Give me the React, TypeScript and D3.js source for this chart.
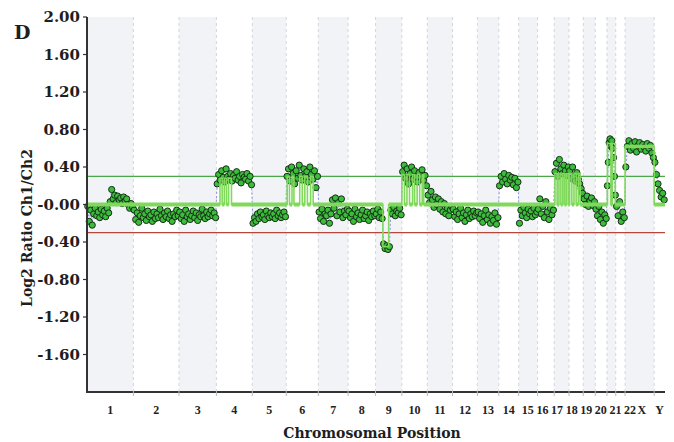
import React from "react";
import * as d3 from "d3";

// ---------- data ----------
const chromosomes = ["1","2","3","4","5","6","7","8","9","10","11","12","13","14","15","16","17","18","19","20","21","22","X","Y"];
// chromosome lengths (Mb) – define the width of each band on the genome axis
const chromLengthsMb = [247.2, 242.9, 199.5, 191.3, 180.9, 170.9, 158.8, 146.3, 140.3, 135.4, 134.5, 132.3, 114.1, 106.4, 100.3, 88.8, 78.8, 76.1, 63.8, 62.4, 46.9, 49.7, 154.9, 57.8];

const yTicks = [2.0, 1.6, 1.2, 0.8, 0.4, 0, -0.4, -0.8, -1.2, -1.6];
const yTickLabels = ["2.00", "1.60", "1.20", "0.80", "0.40", "-0.00", "-0.40", "-0.80", "-1.20", "-1.60"];

const gainThreshold = 0.3;
const lossThreshold = -0.3;

// log2 ratio values per chromosome, in genomic order
const ratioChr1 = [-0.02, -0.18, -0.06, -0.22, -0.1, -0.04, -0.12, -0.08, -0.14, -0.05, -0.11, -0.07, -0.13, -0.04, -0.09, 0.03, 0.16, 0.06, 0.1, 0.02, 0.09, 0.05, 0.07, 0.01, 0.08, 0.04, 0.06, 0.0, -0.04, 0.01, -0.03];
const ratioChr2 = [-0.06, -0.16, -0.09, -0.19, -0.12, -0.04, -0.14, -0.1, -0.17, -0.07, -0.13, -0.11, -0.18, -0.08, -0.15, -0.1, -0.14, -0.05, -0.12, -0.16, -0.09, -0.13, -0.07, -0.15, -0.11, -0.18, -0.1, -0.13, -0.06, -0.12];
const ratioChr3 = [-0.08, -0.15, -0.11, -0.18, -0.06, -0.13, -0.1, -0.16, -0.12, -0.07, -0.14, -0.09, -0.17, -0.11, -0.13, -0.05, -0.12, -0.15, -0.08, -0.13, -0.1, -0.06, -0.12, -0.09, -0.14];
const ratioChr4 = [0.22, 0.32, 0.26, 0.36, 0.29, 0.24, 0.38, 0.3, 0.27, 0.33, 0.25, 0.31, 0.28, 0.35, 0.26, 0.3, 0.23, 0.32, 0.29, 0.27, 0.33, 0.25, 0.3, 0.21];
const ratioChr5 = [-0.2, -0.14, -0.18, -0.1, -0.15, -0.08, -0.13, -0.11, -0.16, -0.07, -0.12, -0.14, -0.09, -0.13, -0.1, -0.15, -0.06, -0.12, -0.09, -0.14, -0.11, -0.08, -0.13];
const ratioChr6 = [0.3, 0.38, 0.25, 0.4, 0.33, 0.22, 0.36, 0.28, 0.42, 0.31, 0.26, 0.38, 0.3, 0.35, 0.24, 0.4, 0.32, 0.27, 0.36, 0.18, 0.3];
const ratioChr7 = [-0.08, -0.15, -0.05, -0.18, -0.1, -0.12, -0.06, -0.2, -0.1, 0.05, -0.04, 0.07, -0.12, 0.02, -0.08, 0.06, -0.14, -0.07, -0.11, -0.05];
const ratioChr8 = [-0.07, -0.14, -0.1, -0.18, -0.05, -0.13, -0.09, -0.16, -0.11, -0.06, -0.15, -0.12, -0.08, -0.17, -0.1, -0.13, -0.07, -0.12];
const ratioChr9 = [-0.1, -0.05, -0.14, -0.08, -0.15, -0.42, -0.47, -0.44, -0.48, -0.45, -0.06, -0.1, -0.03, -0.12, -0.07, -0.09, -0.04, -0.11];
const ratioChr10 = [0.35, 0.42, 0.28, 0.38, 0.22, 0.33, 0.4, 0.27, 0.36, 0.3, 0.24, 0.34, 0.29, 0.37, 0.26, 0.31, 0.2];
const ratioChr11 = [0.1, 0.02, 0.14, 0.05, -0.03, 0.08, 0.0, 0.06, -0.05, 0.03, -0.08, 0.01, -0.1, -0.04, -0.12, -0.06, -0.02];
const ratioChr12 = [-0.05, -0.13, -0.08, -0.16, -0.1, -0.04, -0.14, -0.09, -0.18, -0.11, -0.06, -0.15, -0.1, -0.13, -0.07, -0.12, -0.09];
const ratioChr13 = [-0.08, -0.15, -0.1, -0.19, -0.12, -0.06, -0.16, -0.11, -0.2, -0.13, -0.17, -0.09, -0.21, -0.14];
const ratioChr14 = [0.2, 0.3, 0.24, 0.33, 0.27, 0.22, 0.31, 0.26, 0.29, 0.21, 0.28, 0.18, 0.24];
const ratioChr15 = [-0.2, -0.06, -0.12, -0.03, -0.09, -0.14, -0.05, -0.1, -0.07, -0.13, -0.04, -0.11, -0.08];
const ratioChr16 = [-0.05, 0.06, -0.1, -0.02, -0.14, 0.03, -0.08, -0.16, -0.04, -0.11, -0.06];
const ratioChr17 = [0.35, 0.44, 0.3, 0.48, 0.38, 0.33, 0.42, 0.36, 0.31, 0.4];
const ratioChr18 = [0.36, 0.28, 0.4, 0.3, 0.25, 0.34, 0.27, 0.22, 0.17, 0.12];
const ratioChr19 = [0.06, 0.0, 0.09, -0.02, 0.04, 0.07, -0.01, 0.03];
const ratioChr20 = [-0.05, -0.12, -0.02, -0.16, -0.08, -0.2, -0.11, -0.15];
const ratioChr21 = [0.2, 0.45, 0.66, 0.7, 0.62, 0.68, 0.6, 0.5, 0.3, 0.1];
const ratioChr22 = [-0.02, -0.12, 0.03, -0.18, -0.08, -0.14];
const ratioChrX = [0.4, 0.62, 0.68, 0.58, 0.65, 0.6, 0.67, 0.56, 0.63, 0.66, 0.59, 0.64, 0.61, 0.57, 0.65, 0.6, 0.63, 0.55, 0.5];
const ratioChrY = [0.45, 0.32, 0.22, 0.15, 0.08, 0.12, 0.05];

const ratiosByChrom = [ratioChr1, ratioChr2, ratioChr3, ratioChr4, ratioChr5, ratioChr6, ratioChr7, ratioChr8, ratioChr9, ratioChr10, ratioChr11, ratioChr12, ratioChr13, ratioChr14, ratioChr15, ratioChr16, ratioChr17, ratioChr18, ratioChr19, ratioChr20, ratioChr21, ratioChr22, ratioChrX, ratioChrY];

// aberration calls: chromosome, start / end (fraction of chromosome), segment value
const aberrationChrom = ["4", "4", "4", "6", "6", "6", "6", "6", "9", "10", "10", "10", "10", "10", "17", "17", "17", "17", "18", "18", "18", "21", "21", "X"];
const aberrationStart = [0.1, 0.22, 0.34, 0.03, 0.18, 0.42, 0.58, 0.76, 0.28, 0.0, 0.2, 0.42, 0.6, 0.8, 0.05, 0.32, 0.58, 0.82, 0.05, 0.35, 0.65, 0.05, 0.6, 0.0];
const aberrationEnd = [0.16, 0.28, 0.42, 0.1, 0.24, 0.5, 0.66, 0.84, 0.5, 0.1, 0.3, 0.5, 0.7, 0.86, 0.2, 0.45, 0.7, 0.95, 0.2, 0.5, 0.78, 0.45, 0.95, 1.0];
const aberrationValue = [0.28, 0.28, 0.28, 0.3, 0.3, 0.3, 0.3, 0.3, -0.45, 0.32, 0.32, 0.32, 0.32, 0.32, 0.33, 0.33, 0.33, 0.33, 0.33, 0.33, 0.33, 0.65, 0.65, 0.62];

// ---------- layout ----------
const W = 674;
const H = 442;
const PL = 87;
const PR = 665;
const PT = 17;
const PB = 392;
const FONT = "'DejaVu Serif', 'Liberation Serif', serif";
const CALL_GREEN = "#80d95c";

export default function App() {
  const offsets: number[] = [];
  let acc = 0;
  chromLengthsMb.forEach((l) => {
    offsets.push(acc);
    acc += l;
  });
  const total = acc;

  const x = d3.scaleLinear().domain([0, total]).range([PL, PR]);
  const y = d3.scaleLinear().domain([-2, 2]).range([PB, PT]);

  // probe points
  const points: { g: number; v: number }[] = [];
  ratiosByChrom.forEach((vals, i) => {
    const n = vals.length;
    vals.forEach((v, j) => {
      points.push({ g: offsets[i] + (chromLengthsMb[i] * (j + 0.5)) / n, v });
    });
  });

  // aberration call path (step line)
  const segs = aberrationChrom
    .map((c, k) => {
      const i = chromosomes.indexOf(c);
      return {
        s: offsets[i] + chromLengthsMb[i] * aberrationStart[k],
        e: offsets[i] + chromLengthsMb[i] * aberrationEnd[k],
        v: aberrationValue[k],
      };
    })
    .sort((a, b) => a.s - b.s);
  const callPts: [number, number][] = [[0, 0]];
  segs.forEach((s) => {
    callPts.push([s.s, 0], [s.s, s.v], [s.e, s.v], [s.e, 0]);
  });
  callPts.push([total, 0]);
  const callLine = d3.line<[number, number]>().x((d) => x(d[0])).y((d) => y(d[1]));
  const probeLine = d3.line<{ g: number; v: number }>().x((d) => x(d.g)).y((d) => y(d.v));

  // baseline (no call) intervals
  const baseIntervals: [number, number][] = [];
  let cur = 0;
  segs.forEach((s) => {
    if (s.s > cur) baseIntervals.push([cur, s.s]);
    cur = Math.max(cur, s.e);
  });
  if (cur < total) baseIntervals.push([cur, total]);
  const wideSegs = segs.filter((s) => x(s.e) - x(s.s) > 8);

  // chromosome label positions: band centres, relaxed to avoid overlap
  const labelW = chromosomes.map((c) => c.length * 5.8);
  const labelX = chromosomes.map((_, i) => x(offsets[i] + chromLengthsMb[i] / 2));
  for (let it = 0; it < 80; it++) {
    for (let i = 1; i < labelX.length; i++) {
      const minGap = (labelW[i] + labelW[i - 1]) / 2 + 3;
      const d = labelX[i] - labelX[i - 1];
      if (d < minGap) {
        const sh = (minGap - d) / 2;
        labelX[i] += sh;
        labelX[i - 1] -= sh;
      }
    }
    labelX[labelX.length - 1] = Math.min(labelX[labelX.length - 1], PR - 2);
  }

  return (
    <svg width={W} height={H} style={{ position: "absolute", left: 0, top: 0, background: "#fff" }}>
      {/* chromosome bands */}
      {chromosomes.map((c, i) => (
        <rect
          key={"b" + c}
          x={x(offsets[i])}
          y={PT}
          width={x(offsets[i] + chromLengthsMb[i]) - x(offsets[i])}
          height={PB - PT}
          fill={i % 2 === 0 ? "#f1f3f6" : "#ffffff"}
        />
      ))}
      {chromosomes.map((c, i) =>
        i === 0 ? null : (
          <line
            key={"d" + c}
            x1={x(offsets[i])}
            x2={x(offsets[i])}
            y1={PT}
            y2={PB}
            stroke="#d2d6db"
            strokeWidth={1}
            strokeDasharray="3,3"
          />
        )
      )}
      {/* thresholds */}
      <line x1={PL} x2={PR} y1={y(gainThreshold)} y2={y(gainThreshold)} stroke="#4aa84a" strokeWidth={1.4} />
      <line x1={PL} x2={PR} y1={y(lossThreshold)} y2={y(lossThreshold)} stroke="#b4473a" strokeWidth={1.4} />

      {/* probe trace */}
      <path d={probeLine(points) || ""} fill="none" stroke="#8484e0" strokeWidth={0.9} strokeDasharray="2,2" />

      {/* probes */}
      {points.map((p, k) => (
        <circle key={"p" + k} cx={x(p.g)} cy={y(p.v)} r={3.1} fill="#3dbb3d" stroke="#163016" strokeWidth={1} />
      ))}

      {/* aberration call line */}
      <path d={callLine(callPts) || ""} fill="none" stroke={CALL_GREEN} strokeWidth={1.6} strokeLinejoin="miter" />
      {baseIntervals.map((b, k) => (
        <line key={"bl" + k} x1={x(b[0])} x2={x(b[1])} y1={y(0)} y2={y(0)} stroke={CALL_GREEN} strokeWidth={4} />
      ))}
      {wideSegs.map((s, k) => (
        <line key={"ws" + k} x1={x(s.s)} x2={x(s.e)} y1={y(s.v)} y2={y(s.v)} stroke={CALL_GREEN} strokeWidth={3.5} />
      ))}

      {/* axes */}
      <line x1={PL} x2={PL} y1={PT} y2={PB + 1} stroke="#333" strokeWidth={2} />
      <line x1={PL - 1} x2={PR} y1={PB} y2={PB} stroke="#333" strokeWidth={2} />
      {chromosomes.map((c, i) =>
        i === 0 ? null : (
          <line key={"t" + c} x1={x(offsets[i])} x2={x(offsets[i])} y1={PB - 1} y2={PB + 4} stroke="#bbb" strokeWidth={1} />
        )
      )}
      {yTicks.map((t, i) => (
        <g key={"yt" + i}>
          <line x1={PL - 4} x2={PL} y1={y(t)} y2={y(t)} stroke="#333" strokeWidth={1.2} />
          <text
            x={PL - 7}
            y={y(t)}
            dy="0.36em"
            textAnchor="end"
            fontFamily={FONT}
            fontWeight="bold"
            fontSize={15}
            fill="#1e1e1e"
          >
            {yTickLabels[i]}
          </text>
        </g>
      ))}
      {chromosomes.map((c, i) => (
        <text
          key={"xl" + c}
          x={labelX[i]}
          y={414}
          textAnchor="middle"
          fontFamily="'Liberation Serif', serif"
          fontWeight="bold"
          fontSize={12}
          fill="#222"
        >
          {c}
        </text>
      ))}

      {/* titles */}
      <text x={372} y={438} textAnchor="middle" fontFamily={FONT} fontWeight="bold" fontSize={14} fill="#1e1e1e">
        Chromosomal Position
      </text>
      <text
        transform={`translate(32,228) rotate(-90)`}
        textAnchor="middle"
        fontFamily={FONT}
        fontWeight="bold"
        fontSize={14}
        fill="#1e1e1e"
      >
        Log2 Ratio Ch1/Ch2
      </text>
      <text x={14} y={39} fontFamily={FONT} fontWeight="bold" fontSize={19} fill="#1e1e1e">
        D
      </text>
    </svg>
  );
}
